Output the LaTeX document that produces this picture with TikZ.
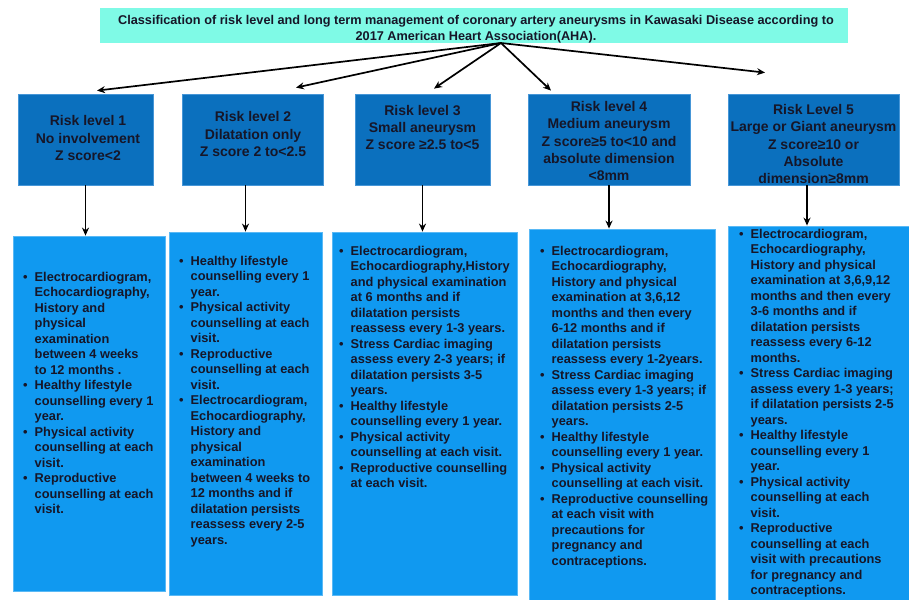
\documentclass[tikz,border=0pt]{standalone}
\usepackage{fontspec}
\setmainfont{Liberation Sans}
\usetikzlibrary{arrows.meta}
\definecolor{titlefill}{RGB}{127,250,230}
\definecolor{hdrfill}{RGB}{11,112,190}
\definecolor{hdrline}{RGB}{70,150,215}
\definecolor{boxfill}{RGB}{16,153,240}
\definecolor{boxline}{RGB}{90,185,245}
\definecolor{txt}{RGB}{22,22,40}
\newcommand\bl{\makebox[11.5pt][l]{\textbullet}}
\newcommand\ib{\makebox[11.5pt]{}}
\begin{document}
\begin{tikzpicture}[x=1pt,y=-1pt,
  titlebox/.style={fill=titlefill, draw=none, inner sep=0pt, minimum width=748pt, minimum height=35pt},
  titletxt/.style={font=\bfseries\fontsize{12.7}{15.5}\selectfont, align=center, text=txt, inner sep=0pt},
  hdrbox/.style={fill=hdrfill, draw=hdrline, line width=0.8pt, inner sep=0pt},
  hdrtxt/.style={font=\bfseries\fontsize{14}{17.4}\selectfont, align=center, text=txt, inner sep=0pt},
  cbox/.style={fill=boxfill, draw=boxline, line width=0.8pt, inner sep=0pt},
  ctxt/.style={font=\bfseries\fontsize{12.8}{15.5}\selectfont, align=left, text=txt, inner sep=0pt, anchor=north west},
  arr/.style={-{Stealth[length=8pt,width=7pt]}, line width=1.7pt, black},
  varr/.style={-{Stealth[length=8pt,width=7pt]}, line width=1.4pt, black}
]
\fill[white] (0,0) rectangle (909,599);
\useasboundingbox (0,0) rectangle (909,599);

% title
\node[titlebox] (t) at (474,25.5) {};
\node[titletxt] (tt) at (476,29) {Classification of risk level and long term management of coronary artery aneurysms in Kawasaki Disease according to\\2017 American Heart Association(AHA).};
\coordinate (src) at (501,43);

% header boxes
\node[hdrbox, minimum width=135pt, minimum height=91pt] (h1) at (85.5,139.5) {};
\node[hdrbox, minimum width=141pt, minimum height=91pt] (h2) at (252.5,139.5) {};
\node[hdrbox, minimum width=135pt, minimum height=91pt] (h3) at (422.5,139.5) {};
\node[hdrbox, minimum width=162pt, minimum height=91pt] (h4) at (609,139.5) {};
\node[hdrbox, minimum width=171pt, minimum height=91pt] (h5) at (813.5,139.5) {};

\node[hdrtxt] (h1t) at (88,138) {Risk level 1\\No involvement\\Z score<2};
\node[hdrtxt] (h2t) at (253,134) {Risk level 2\\Dilatation only\\Z score 2 to<2.5};
\node[hdrtxt] (h3t) at (422.5,127.5) {Risk level 3\\Small aneurysm\\Z score ≥2.5 to<5};
\node[hdrtxt] (h4t) at (609,141) {Risk level 4\\Medium aneurysm\\Z score≥5 to<10 and\\absolute dimension\\<8mm};
\node[hdrtxt] (h5t) at (813.5,144) {Risk Level 5\\Large or Giant aneurysm\\Z score≥10 or\\Absolute\\dimension≥8mm};

% content boxes
\node[cbox, minimum width=152pt, minimum height=355pt] (c1) at (89,413.5) {};
\node[cbox, minimum width=153pt, minimum height=363pt] (c2) at (245.5,413.5) {};
\node[cbox, minimum width=185pt, minimum height=363pt] (c3) at (424.5,413.5) {};
\node[cbox, minimum width=186pt, minimum height=375pt] (c4) at (622,416.5) {};
\node[cbox, minimum width=186pt, minimum height=380pt] (c5) at (821,416) {};

\node[ctxt] (c1t) at (23,272) {\bl Electrocardiogram,\\\ib Echocardiography,\\\ib History and\\\ib physical\\\ib examination\\\ib between 4 weeks\\\ib to 12 months .\\\bl Healthy lifestyle\\\ib counselling every 1\\\ib year.\\\bl Physical activity\\\ib counselling at each\\\ib visit.\\\bl Reproductive\\\ib counselling at each\\\ib visit.};

\node[ctxt] (c2t) at (179,256) {\bl Healthy lifestyle\\\ib counselling every 1\\\ib year.\\\bl Physical activity\\\ib counselling at each\\\ib visit.\\\bl Reproductive\\\ib counselling at each\\\ib visit.\\\bl Electrocardiogram,\\\ib Echocardiography,\\\ib History and\\\ib physical\\\ib examination\\\ib between 4 weeks to\\\ib 12 months and if\\\ib dilatation persists\\\ib reassess every 2-5\\\ib years.};

\node[ctxt] (c3t) at (339,246) {\bl Electrocardiogram,\\\ib Echocardiography,History\\\ib and physical examination\\\ib at 6 months and if\\\ib dilatation persists\\\ib reassess every 1-3 years.\\\bl Stress Cardiac imaging\\\ib assess every 2-3 years; if\\\ib dilatation persists 3-5\\\ib years.\\\bl Healthy lifestyle\\\ib counselling every 1 year.\\\bl Physical activity\\\ib counselling at each visit.\\\bl Reproductive counselling\\\ib at each visit.};

\node[ctxt] (c4t) at (540,246) {\bl Electrocardiogram,\\\ib Echocardiography,\\\ib History and physical\\\ib examination at 3,6,12\\\ib months and then every\\\ib 6-12 months and if\\\ib dilatation persists\\\ib reassess every 1-2years.\\\bl Stress Cardiac imaging\\\ib assess every 1-3 years; if\\\ib dilatation persists 2-5\\\ib years.\\\bl Healthy lifestyle\\\ib counselling every 1 year.\\\bl Physical activity\\\ib counselling at each visit.\\\bl Reproductive counselling\\\ib at each visit with\\\ib precautions for\\\ib pregnancy and\\\ib contraceptions.};

\node[ctxt] (c5t) at (739,229) {\bl Electrocardiogram,\\\ib Echocardiography,\\\ib History and physical\\\ib examination at 3,6,9,12\\\ib months and then every\\\ib 3-6 months and if\\\ib dilatation persists\\\ib reassess every 6-12\\\ib months.\\\bl Stress Cardiac imaging\\\ib assess every 1-3 years;\\\ib if dilatation persists 2-5\\\ib years.\\\bl Healthy lifestyle\\\ib counselling every 1\\\ib year.\\\bl Physical activity\\\ib counselling at each\\\ib visit.\\\bl Reproductive\\\ib counselling at each\\\ib visit with precautions\\\ib for pregnancy and\\\ib contraceptions.};

% arrows from title
\draw[arr] (src) -- ([xshift=11.5pt,yshift=3pt]h1.north);
\draw[arr] (src) -- ([xshift=43.5pt,yshift=6pt]h2.north);
\draw[arr] (src) -- ([xshift=11.5pt,yshift=5pt]h3.north);
\draw[arr] (src) -- ([xshift=-58pt,yshift=3pt]h4.north);
\draw[arr] (src) -- ([xshift=-48.5pt,yshift=21pt]h5.north);

% vertical arrows
\draw[varr] (h1.south) -- (h1.south |- c1.north);
\draw[varr] ([xshift=-7pt]h2.south) -- ([xshift=-7pt]h2.south |- c2.north);
\draw[varr] (h3.south) -- (h3.south |- c3.north);
\draw[varr] (h4.south) -- (h4.south |- c4.north);
\draw[varr] ([xshift=-6.5pt]h5.south) -- ([xshift=-6.5pt]h5.south |- c5.north);
\end{tikzpicture}
\end{document}
